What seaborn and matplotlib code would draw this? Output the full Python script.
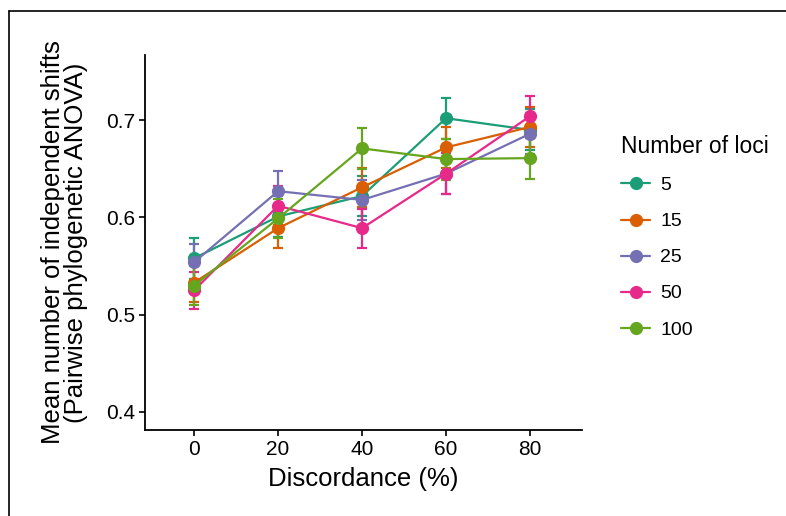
import matplotlib
matplotlib.use("Agg")
import matplotlib.pyplot as plt
from matplotlib.lines import Line2D
import pandas as pd
import seaborn as sns

# Values
discordance = [0, 20, 40, 60, 80]
loci = ["5", "15", "25", "50", "100"]
mean_5 = [0.558, 0.601, 0.622, 0.702, 0.690]
mean_15 = [0.533, 0.589, 0.631, 0.672, 0.693]
mean_25 = [0.554, 0.627, 0.618, 0.645, 0.686]
mean_50 = [0.525, 0.612, 0.589, 0.645, 0.704]
mean_100 = [0.530, 0.599, 0.671, 0.660, 0.661]
se_5 = [0.021, 0.021, 0.021, 0.021, 0.021]
se_15 = [0.020, 0.020, 0.020, 0.021, 0.021]
se_25 = [0.019, 0.021, 0.021, 0.021, 0.021]
se_50 = [0.019, 0.020, 0.020, 0.021, 0.021]
se_100 = [0.020, 0.020, 0.021, 0.021, 0.021]

means = [mean_5, mean_15, mean_25, mean_50, mean_100]
ses = [se_5, se_15, se_25, se_50, se_100]

rows = []
for name, m, s in zip(loci, means, ses):
    for x, y, e in zip(discordance, m, s):
        rows.append({"discordance": x, "loci": name, "mean": y, "se": e})
df = pd.DataFrame(rows)

sns.set_theme(style="ticks")
plt.rcParams["font.family"] = ["Liberation Sans", "DejaVu Sans"]
plt.rcParams["text.color"] = "black"

palette = dict(zip(loci, sns.color_palette("Dark2", 5)))

fig = plt.figure(figsize=(7.86, 5.16), dpi=100)
ax = fig.add_axes([0.1845, 0.1667, 0.556, 0.7267])

# error bars first, then lines with points
for name in loci:
    sub = df[df["loci"] == name]
    ax.errorbar(sub["discordance"], sub["mean"], yerr=sub["se"], fmt="none",
                ecolor=palette[name], elinewidth=1.6, capsize=3.8, capthick=1.6)

sns.lineplot(data=df, x="discordance", y="mean", hue="loci", hue_order=loci,
             palette=palette, marker="o", markersize=9.5, markeredgewidth=0,
             linewidth=1.6, ax=ax)

ax.set_xlim(-11.7, 92.4)
ax.set_ylim(0.3815, 0.767)
ax.set_xticks(discordance)
ax.set_yticks([0.4, 0.5, 0.6, 0.7])
ax.set_yticklabels(["0.4", "0.5", "0.6", "0.7"])
ax.set_xlabel("Discordance (%)", fontsize=18.5, color="black", labelpad=6)
ax.set_ylabel("Mean number of independent shifts\n(Pairwise phylogenetic ANOVA)",
              fontsize=18.5, color="black", linespacing=0.95, labelpad=13)
ax.tick_params(labelsize=15, length=4, width=1.2, pad=3, colors="black")
for side in ["left", "bottom"]:
    ax.spines[side].set_linewidth(1.3)
    ax.spines[side].set_color("black")
sns.despine(ax=ax)

handles, labels = ax.get_legend_handles_labels()
leg = ax.legend(handles, labels, title="Number of loci", frameon=False,
                loc="upper left", bbox_to_anchor=(0.768, 0.772),
                bbox_transform=fig.transFigure, fontsize=14, title_fontsize=16.5,
                labelspacing=0.95, handlelength=1.5, handletextpad=0.5)
leg._legend_box.align = "left"
for t in leg.get_texts():
    t.set_color("black")
leg.get_title().set_color("black")

# border line along top and left of the picture
fig.add_artist(Line2D([9 / 786, 9 / 786], [0, 1 - 11 / 516],
                      transform=fig.transFigure, color="black", linewidth=1.2))
fig.add_artist(Line2D([9 / 786, 1], [1 - 11 / 516, 1 - 11 / 516],
                      transform=fig.transFigure, color="black", linewidth=1.2))

fig.savefig("out.png", dpi=100)
